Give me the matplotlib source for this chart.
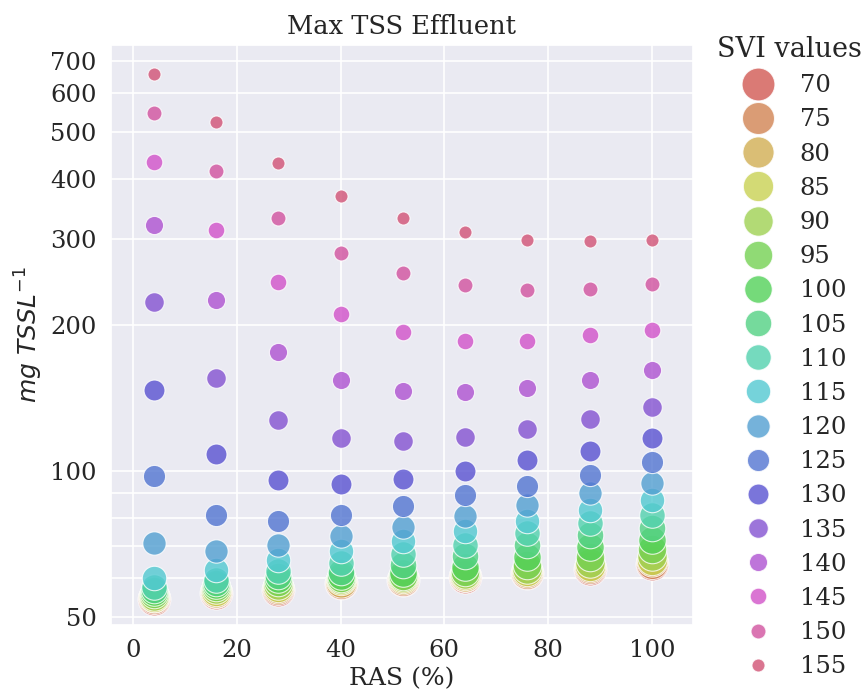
import matplotlib
matplotlib.use("Agg")
import matplotlib.pyplot as plt
from matplotlib.lines import Line2D
from matplotlib.ticker import FixedLocator, NullFormatter, ScalarFormatter
import numpy as np
import seaborn as sns

# RAS (%) positions and SVI levels
ras = [4, 16, 28, 40, 52, 64, 76, 88, 100]
svi = [70, 75, 80, 85, 90, 95, 100, 105, 110, 115, 120, 125, 130, 135, 140, 145, 150, 155]

# max TSS effluent (mg TSS/L), one list per RAS value, ordered by SVI
tss_ras4 = [54.5, 54.6, 54.8, 55.0, 55.3, 55.7, 56.2, 56.8, 57.6, 60.1, 71.1, 97.7, 147, 223, 321, 432, 545, 658]
tss_ras16 = [56.0, 56.1, 56.3, 56.6, 57.0, 57.5, 58.1, 58.8, 59.4, 62.5, 68.3, 81.2, 108, 155, 225, 313, 415, 522]
tss_ras28 = [56.8, 57.0, 57.3, 57.7, 58.2, 58.9, 59.7, 60.7, 62.0, 65.6, 70.4, 78.6, 95.8, 127, 176, 245, 331, 430]
tss_ras40 = [58.6, 58.8, 59.0, 59.4, 59.8, 60.2, 60.8, 61.8, 64.6, 68.3, 73.2, 81.2, 94, 117, 154, 210, 281, 369]
tss_ras52 = [59.5, 59.6, 59.8, 60.0, 60.3, 60.8, 61.6, 63.8, 67.4, 71.5, 76.7, 84.5, 96, 115, 146, 193, 255, 331]
tss_ras64 = [60.5, 60.6, 60.8, 61.0, 61.3, 61.9, 63.4, 66.6, 70.4, 75.0, 80.5, 89.2, 100, 117.5, 145.5, 185, 241, 310]
tss_ras76 = [61.5, 61.6, 61.8, 62.1, 62.6, 63.9, 66.4, 70.4, 74.4, 78.9, 85, 93, 105, 122, 148, 185, 236, 299]
tss_ras88 = [62.8, 62.9, 63.2, 63.7, 64.6, 66.5, 69.7, 73.8, 78.0, 83.1, 90.0, 98, 110, 128, 153.5, 190, 237, 297]
tss_ras100 = [64.3, 64.6, 65.0, 65.5, 66.8, 68.8, 72.1, 76.3, 81.2, 87.1, 94.5, 104, 117, 135.5, 161, 195, 242, 299]

y_ticks = [50, 100, 200, 300, 400, 500, 600, 700]

sns.set_theme(style="darkgrid")
plt.rcParams["font.family"] = ["DejaVu Serif"]

tss = np.column_stack([tss_ras4, tss_ras16, tss_ras28, tss_ras40, tss_ras52,
                       tss_ras64, tss_ras76, tss_ras88, tss_ras100])
colors = sns.hls_palette(len(svi), l=0.57, s=0.58)

# bigger markers for low SVI
s_big, s_small = 560, 88
sizes = [s_big - (v - svi[0]) / (svi[-1] - svi[0]) * (s_big - s_small) for v in svi]

fig = plt.figure(figsize=(8.64, 6.99), dpi=100)
ax = fig.add_axes([0.128, 0.106, 0.674, 0.830])

for i, v in enumerate(svi):
    ax.scatter(ras, tss[i], s=sizes[i], color=colors[i], alpha=0.8,
               edgecolor="white", linewidth=0.8, zorder=3)

ax.set_yscale("log")
ax.set_xlim(-4.3, 107.9)
ax.set_ylim(48.1, 755)
ax.yaxis.set_major_locator(FixedLocator(y_ticks))
ax.yaxis.set_major_formatter(ScalarFormatter())
ax.yaxis.set_minor_formatter(NullFormatter())
ax.grid(which="minor", color="white", linewidth=1.2)
ax.grid(which="major", color="white", linewidth=1.2)
ax.tick_params(axis="both", which="major", labelsize=17.5, pad=4)

ax.set_title("Max TSS Effluent", fontsize=18.5, pad=8)
ax.set_xlabel("RAS (%)", fontsize=18)
ax.set_ylabel(r"$mg\ TSSL^{-1}$", fontsize=18)

handles = [Line2D([], [], linestyle="", marker="o", markersize=np.sqrt(sizes[i]),
                  markerfacecolor=colors[i], markeredgecolor="white",
                  markeredgewidth=0.8, alpha=0.8) for i in range(len(svi))]
leg = ax.legend(handles, [str(v) for v in svi], title="SVI values",
                loc="upper left", bbox_to_anchor=(1.017, 1.04), frameon=False,
                fontsize=17.5, title_fontsize=19.5, labelspacing=0.46,
                handletextpad=0.72, borderaxespad=0.2)

fig.savefig("out.png", dpi=100)
